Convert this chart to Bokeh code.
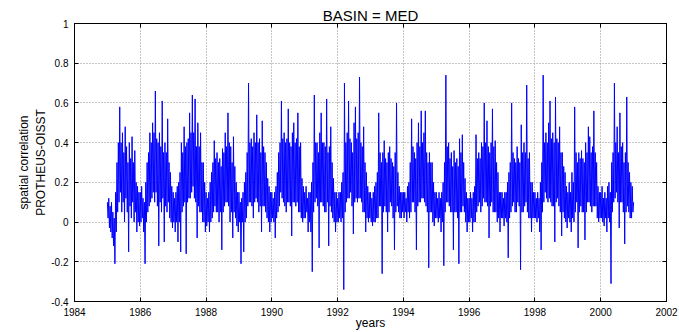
from bokeh.plotting import figure
from bokeh.models import (Range1d, FixedTicker, LinearAxis, CustomJSTickFormatter,
                          CustomLabelingPolicy)
from bokeh.embed import file_html
from bokeh.resources import INLINE

# ---------------- data ----------------
title_text = "BASIN = MED"
x_label = "years"
y_label = "spatial correlation\nPROTHEUS-OISST"

x_ticks = [1984, 1986, 1988, 1990, 1992, 1994, 1996, 1998, 2000, 2002]
y_ticks = [-0.4, -0.2, 0.0, 0.2, 0.4, 0.6, 0.8, 1.0]

first_year = 1985
samples_per_year = 48   # roughly weekly samples

corr_1985 = [0.10, 0.02, 0.12, -0.03, 0.08, -0.05, 0.10, -0.08, 0.05, -0.12, 0.02, -0.21,
             0.15, -0.05, 0.30, 0.05, 0.40, 0.10, 0.58, 0.15, 0.40, 0.05, 0.45, 0.10,
             0.35, 0.00, 0.48, 0.12, 0.38, 0.05, 0.30, -0.15, 0.40, 0.08, 0.32, 0.02,
             0.43, 0.10, 0.30, 0.00, 0.36, 0.05, 0.20, -0.05, 0.18, 0.00, 0.15, -0.02]
corr_1986 = [0.15, 0.00, 0.18, 0.02, 0.12, -0.05, 0.10, -0.21, 0.20, 0.00, 0.30, 0.05,
             0.35, 0.08, 0.45, 0.10, 0.40, 0.12, 0.50, 0.15, 0.45, 0.10, 0.66, 0.15,
             0.42, 0.08, 0.40, -0.12, 0.45, 0.10, 0.38, 0.05, 0.61, 0.12, 0.35, -0.10,
             0.40, 0.08, 0.35, 0.05, 0.52, 0.10, 0.30, 0.02, 0.25, 0.00, 0.18, -0.03]
corr_1987 = [0.15, 0.00, 0.12, -0.05, 0.15, 0.00, 0.18, -0.10, 0.20, 0.00, 0.25, -0.15,
             0.40, 0.05, 0.35, 0.08, 0.48, 0.10, 0.38, -0.16, 0.40, 0.10, 0.42, 0.12,
             0.55, 0.12, 0.45, 0.15, 0.64, 0.18, 0.45, 0.12, 0.62, 0.10, 0.38, -0.08,
             0.50, 0.08, 0.38, 0.05, 0.45, 0.05, 0.30, 0.00, 0.30, 0.00, 0.20, -0.05]
corr_1988 = [0.15, -0.02, 0.12, 0.00, 0.15, -0.05, 0.20, 0.00, 0.25, 0.02, 0.30, 0.05,
             0.41, 0.08, 0.32, 0.05, 0.35, 0.05, 0.30, 0.00, 0.32, 0.05, 0.28, -0.14,
             0.37, 0.05, 0.35, 0.08, 0.45, 0.10, 0.38, 0.10, 0.55, 0.08, 0.40, 0.00,
             0.38, 0.05, 0.30, -0.08, 0.43, 0.05, 0.28, 0.02, 0.20, -0.02, 0.15, -0.05]
corr_1989 = [0.15, 0.00, 0.10, -0.21, 0.12, 0.00, 0.15, -0.15, 0.20, 0.00, 0.25, 0.02,
             0.35, 0.08, 0.70, 0.10, 0.40, 0.10, 0.42, 0.08, 0.38, 0.02, 0.45, 0.10,
             0.40, 0.12, 0.54, 0.10, 0.40, 0.05, 0.42, 0.08, 0.35, -0.05, 0.51, 0.08,
             0.38, 0.08, 0.35, 0.05, 0.30, 0.02, 0.22, 0.00, 0.18, -0.05, 0.15, 0.00]
corr_1990 = [0.15, 0.02, 0.12, 0.00, 0.15, -0.08, 0.18, 0.02, 0.25, 0.05, 0.35, 0.08,
             0.40, 0.15, 0.61, 0.12, 0.42, 0.10, 0.45, 0.08, 0.40, 0.05, 0.42, 0.10,
             0.57, 0.10, 0.40, 0.08, 0.38, -0.07, 0.45, 0.10, 0.50, 0.10, 0.40, 0.08,
             0.42, 0.10, 0.55, 0.05, 0.38, 0.05, 0.40, 0.02, 0.22, 0.00, 0.18, 0.02]
corr_1991 = [0.15, 0.02, 0.18, 0.05, 0.12, -0.05, 0.15, 0.00, 0.15, -0.05, 0.20, -0.25,
             0.30, 0.05, 0.64, 0.10, 0.40, 0.12, 0.40, 0.08, 0.35, -0.13, 0.45, 0.10,
             0.55, 0.10, 0.40, 0.08, 0.40, 0.05, 0.38, 0.05, 0.62, 0.10, 0.35, -0.12,
             0.38, 0.08, 0.48, 0.05, 0.30, 0.02, 0.22, 0.00, 0.15, -0.05, 0.15, 0.00]
corr_1992 = [0.12, 0.00, 0.15, 0.02, 0.15, 0.00, 0.20, 0.02, 0.25, -0.34, 0.70, 0.05,
             0.40, 0.10, 0.45, 0.12, 0.61, 0.12, 0.42, 0.15, 0.40, 0.08, 0.35, -0.06,
             0.50, 0.10, 0.58, 0.12, 0.42, 0.10, 0.45, 0.12, 0.73, 0.12, 0.40, 0.10,
             0.38, 0.05, 0.48, 0.05, 0.30, -0.05, 0.25, 0.02, 0.18, 0.00, 0.15, 0.02]
corr_1993 = [0.15, 0.00, 0.12, -0.02, 0.15, 0.00, 0.18, 0.00, 0.20, 0.02, 0.25, 0.02,
             0.55, 0.08, 0.35, 0.08, 0.30, -0.26, 0.35, 0.05, 0.41, 0.08, 0.32, 0.05,
             0.30, -0.05, 0.35, 0.05, 0.38, 0.10, 0.32, 0.08, 0.30, 0.02, 0.28, -0.14,
             0.35, 0.05, 0.60, 0.08, 0.25, 0.05, 0.18, 0.02, 0.15, 0.02, 0.15, 0.05]
corr_1994 = [0.15, 0.02, 0.15, 0.05, 0.12, 0.00, 0.18, 0.05, 0.20, 0.02, 0.30, 0.05,
             0.52, 0.10, 0.38, 0.10, 0.35, 0.05, 0.32, -0.14, 0.40, 0.08, 0.50, 0.10,
             0.38, 0.10, 0.56, 0.12, 0.40, 0.12, 0.45, 0.10, 0.56, 0.08, 0.35, 0.05,
             0.30, -0.23, 0.35, 0.05, 0.30, 0.05, 0.30, 0.00, 0.20, -0.02, 0.15, 0.02]
corr_1995 = [0.15, 0.02, 0.12, 0.00, 0.15, 0.02, 0.12, -0.05, 0.15, 0.00, 0.20, -0.22,
             0.30, 0.05, 0.74, 0.10, 0.38, 0.10, 0.40, 0.08, 0.32, 0.05, 0.35, 0.05,
             0.28, -0.14, 0.36, 0.05, 0.30, 0.05, 0.32, 0.02, 0.28, -0.21, 0.42, 0.05,
             0.35, 0.05, 0.44, 0.08, 0.30, 0.05, 0.22, 0.00, 0.15, -0.05, 0.12, 0.00]
corr_1996 = [0.12, 0.00, 0.15, 0.02, 0.12, -0.05, 0.15, 0.00, 0.18, 0.00, 0.44, 0.05,
             0.32, 0.08, 0.35, 0.10, 0.32, 0.05, 0.40, 0.08, 0.38, 0.12, 0.60, 0.10,
             0.40, 0.10, 0.51, 0.08, 0.38, -0.08, 0.35, 0.08, 0.40, 0.10, 0.57, 0.05,
             0.38, 0.05, 0.41, 0.05, 0.30, 0.00, 0.25, 0.02, 0.15, -0.05, 0.15, 0.02]
corr_1997 = [0.15, 0.02, 0.12, -0.02, 0.15, 0.02, 0.15, 0.00, 0.20, -0.18, 0.25, 0.02,
             0.30, 0.05, 0.60, 0.08, 0.35, 0.10, 0.32, 0.05, 0.30, 0.05, 0.38, 0.10,
             0.32, 0.08, 0.30, -0.24, 0.49, 0.05, 0.35, 0.05, 0.40, 0.08, 0.35, 0.10,
             0.69, 0.05, 0.32, 0.02, 0.35, 0.02, 0.20, -0.05, 0.20, 0.02, 0.15, 0.02]
corr_1998 = [0.15, 0.02, 0.12, 0.00, 0.15, 0.02, 0.12, -0.05, 0.20, -0.14, 0.30, 0.05,
             0.74, 0.10, 0.40, 0.15, 0.45, 0.12, 0.40, 0.10, 0.50, 0.12, 0.61, 0.10,
             0.42, 0.08, 0.45, 0.08, 0.40, -0.10, 0.63, 0.10, 0.42, 0.12, 0.40, 0.08,
             0.48, 0.05, 0.35, -0.07, 0.35, 0.05, 0.28, 0.02, 0.25, 0.00, 0.18, -0.03]
corr_1999 = [0.15, 0.02, 0.20, 0.00, 0.15, -0.05, 0.25, 0.02, 0.20, 0.00, 0.58, 0.05,
             0.35, 0.10, 0.30, -0.13, 0.35, 0.05, 0.32, 0.08, 0.36, 0.05, 0.32, 0.05,
             0.30, -0.09, 0.40, 0.05, 0.35, 0.10, 0.48, 0.10, 0.43, 0.08, 0.35, 0.05,
             0.38, 0.08, 0.56, 0.08, 0.35, 0.08, 0.30, 0.02, 0.18, 0.00, 0.15, 0.02]
corr_2000 = [0.15, 0.02, 0.18, 0.00, 0.12, -0.02, 0.15, 0.02, 0.12, -0.05, 0.18, 0.02,
             0.20, 0.00, 0.15, -0.31, 0.30, 0.05, 0.35, 0.10, 0.70, 0.12, 0.40, 0.15,
             0.48, 0.10, 0.35, -0.03, 0.55, 0.10, 0.38, 0.10, 0.40, 0.05, 0.30, -0.11,
             0.35, 0.05, 0.63, 0.08, 0.30, 0.05, 0.25, 0.02, 0.20, 0.02, 0.18, 0.05]
corr_2001 = [0.10]

series = (corr_1985 + corr_1986 + corr_1987 + corr_1988 + corr_1989 + corr_1990 +
          corr_1991 + corr_1992 + corr_1993 + corr_1994 + corr_1995 + corr_1996 +
          corr_1997 + corr_1998 + corr_1999 + corr_2000 + corr_2001)
times = [first_year + k / samples_per_year for k in range(len(series))]

# ---------------- figure ----------------
FONT = "Liberation Sans"

p = figure(width=679, height=332, output_backend="svg", toolbar_location=None,
           x_range=Range1d(1984, 2002), y_range=Range1d(-0.4, 1.0),
           min_border_left=74, min_border_right=13, min_border_top=23, min_border_bottom=31)
p.background_fill_color = "white"
p.border_fill_color = "white"
p.outline_line_color = "black"
p.outline_line_width = 1

p.title.text = title_text
p.title.align = "center"
p.title.text_font = FONT
p.title.text_font_size = "15px"
p.title.text_font_style = "normal"
p.title.text_color = "black"
p.title.standoff = 0
p.title.offset = 0

fmt = CustomJSTickFormatter(code="return (Math.round(tick*10)/10).toString();")

for ax in p.xaxis:
    ax.ticker = FixedTicker(ticks=x_ticks)
    ax.formatter = fmt
    ax.axis_label = x_label
    ax.axis_label_standoff = -3
for ax in p.yaxis:
    ax.ticker = FixedTicker(ticks=y_ticks)
    ax.formatter = fmt
    ax.axis_label = y_label
    ax.axis_label_standoff = 0

for ax in list(p.xaxis) + list(p.yaxis):
    ax.major_tick_in = 4
    ax.major_tick_out = 0
    ax.minor_tick_in = 0
    ax.minor_tick_out = 0
    ax.axis_line_color = "black"
    ax.major_tick_line_color = "black"
    ax.major_label_text_font = FONT
    ax.major_label_text_font_size = "10px"
    ax.major_label_text_color = "black"
    ax.major_label_standoff = 6
    ax.axis_label_text_font = FONT
    ax.axis_label_text_font_size = "12px"
    ax.axis_label_text_font_style = "normal"
    ax.axis_label_text_color = "black"

no_labels = CustomLabelingPolicy(code="""
const all = [...indices];
for (const i of all) indices.unset(i);
return indices;
""")
top_axis = LinearAxis(ticker=FixedTicker(ticks=x_ticks), major_label_policy=no_labels,
                      major_label_text_font_size="0px",
                      major_tick_in=4, major_tick_out=0, minor_tick_in=0, minor_tick_out=0,
                      major_label_standoff=0, axis_line_color="black")
right_axis = LinearAxis(ticker=FixedTicker(ticks=y_ticks), major_label_policy=no_labels,
                        major_label_text_font_size="0px",
                        major_tick_in=4, major_tick_out=0, minor_tick_in=0, minor_tick_out=0,
                        major_label_standoff=0, axis_line_color="black")
p.add_layout(top_axis, "above")
p.add_layout(right_axis, "right")

p.xgrid.ticker = FixedTicker(ticks=x_ticks)
p.ygrid.ticker = FixedTicker(ticks=y_ticks)
p.grid.grid_line_color = "#8a8a8a"
p.grid.grid_line_dash = "1 2"
p.grid.grid_line_width = 1

p.line(times, series, line_color="#0000ff", line_width=1)

open("out.html", "w").write(file_html(p, INLINE))
